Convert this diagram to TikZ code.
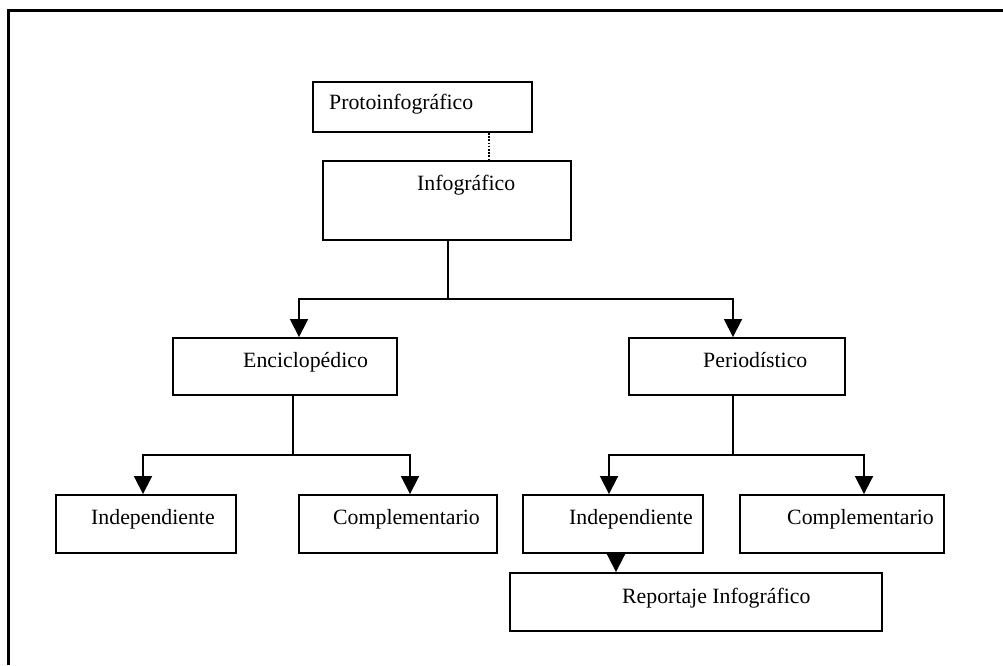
\documentclass[tikz,border=0pt]{standalone}
\usepackage{fontspec}
\setmainfont{Liberation Serif}
\usetikzlibrary{arrows.meta}

\tikzset{
  box/.style={draw=black, line width=1.9pt, rectangle, inner sep=0pt, fill=white},
  caption/.style={anchor=base west, inner sep=0pt, font=\fontsize{21.8}{26}\selectfont},
  conn/.style={draw=black, line width=1.8pt},
  arr/.style={conn, -{Triangle[length=18pt, width=18pt]}},
  dotline/.style={draw=black, line width=2.6pt, dash pattern=on 1.6pt off 1.6pt},
  frame/.style={draw=black, line width=3pt}
}

\begin{document}
\begin{tikzpicture}[x=1pt, y=-1pt]
  \useasboundingbox[fill=white] (0,0) rectangle (1003,665);

  % frame: top and left edges
  \coordinate (fl) at (8,665);
  \coordinate (fc) at (8,10);
  \coordinate (fr) at (1003,10);
  \draw[frame] (fl) -- (fc) -- (fr);

  % boxes
  \node[box, minimum width=219pt, minimum height=50pt] (proto) at (422.5,107) {};
  \node[box, minimum width=248pt, minimum height=79pt] (info)  at (447,200.5) {};
  \node[box, minimum width=224pt, minimum height=57pt] (enc)   at (285,366.5) {};
  \node[box, minimum width=216pt, minimum height=57pt] (per)   at (737,366.5) {};
  \node[box, minimum width=180pt, minimum height=58pt] (ind1)  at (146,524) {};
  \node[box, minimum width=198pt, minimum height=58pt] (comp1) at (398,524) {};
  \node[box, minimum width=180pt, minimum height=58pt] (ind2)  at (613,524) {};
  \node[box, minimum width=204pt, minimum height=58pt] (comp2) at (842,524) {};
  \node[box, minimum width=372pt, minimum height=58pt] (rep)   at (696,602) {};

  % texts
  \node[caption] (proto-t) at (329,109) {Protoinfográfico};
  \node[caption] (info-t)  at (417,190) {Infográfico};
  \node[caption] (enc-t)   at (243,367) {Enciclopédico};
  \node[caption] (per-t)   at (703,367) {Periodístico};
  \node[caption] (ind1-t)  at (91,524)  {Independiente};
  \node[caption] (comp1-t) at (333,524) {Complementario};
  \node[caption] (ind2-t)  at (569,524) {Independiente};
  \node[caption] (comp2-t) at (787,524) {Complementario};
  \node[caption] (rep-t)   at (622,603) {Reportaje Infográfico};

  % dotted link
  \draw[dotline] ([xshift=66.5pt]proto.south) -- ([xshift=42pt]info.north);

  % junctions
  \coordinate (j0) at (448,299);
  \coordinate (j1) at (293,455);
  \coordinate (j2) at (733,455);

  % Infográfico branches
  \draw[conn] (info.south -| j0) -- (j0);
  \draw[arr] (j0) -| ([xshift=14pt]enc.north);
  \draw[arr] (j0) -| ([xshift=-4pt]per.north);

  % Enciclopédico branches
  \draw[conn] (enc.south -| j1) -- (j1);
  \draw[arr] (j1) -| ([xshift=-3pt]ind1.north);
  \draw[arr] (j1) -| ([xshift=12pt]comp1.north);

  % Periodístico branches
  \draw[conn] (per.south -| j2) -- (j2);
  \draw[arr] (j2) -| ([xshift=-4pt]ind2.north);
  \draw[arr] (j2) -| ([xshift=22pt]comp2.north);

  % Independiente to Reportaje
  \draw[arr] ([xshift=3pt]ind2.south) -- ([xshift=-80pt]rep.north);
\end{tikzpicture}
\end{document}
